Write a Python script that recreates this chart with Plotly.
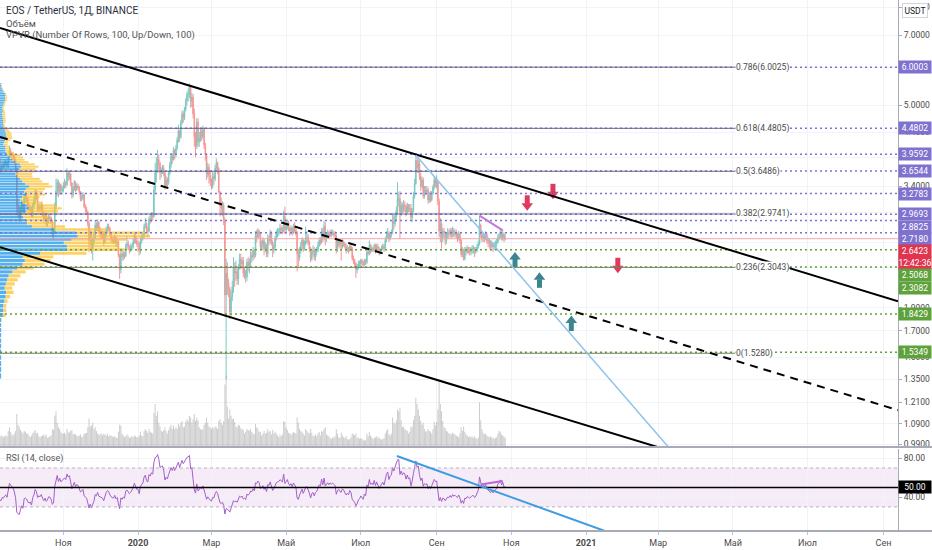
import numpy as np
import pandas as pd
import plotly.graph_objects as go

# EOS / TetherUS, 1D, Binance (approx.)
FIRST_DAY = "2019-08-26"
FIRST_OPEN = 3.70

CLOSE = [
    3.75, 3.68, 3.45, 3.36, 3.40, 3.47,  # aug 2019
    3.58, 3.72, 3.86, 3.80, 3.78, 3.66, 3.84, 3.90, 3.88, 3.72, 3.70, 3.76, 3.74, 3.78, 3.80,
    3.74, 3.88, 4.02, 3.98, 3.94, 3.92, 3.84, 3.70, 3.08, 3.02, 2.94, 3.04, 3.12, 3.00, 3.22,  # sep
    3.24, 3.20, 3.08, 3.04, 3.06, 2.94, 3.10, 3.16, 3.30, 3.24, 3.04, 3.08, 3.05, 3.10, 2.98, 2.90,
    2.95, 2.84, 2.87, 2.93, 2.92, 2.86, 2.70, 2.72, 3.08, 3.32, 3.46, 3.30, 3.42, 3.32, 3.36,  # oct
    3.40, 3.46, 3.42, 3.62, 3.55, 3.60, 3.45, 3.26, 3.36, 3.46, 3.34, 3.40, 3.38, 3.30, 3.20,
    3.22, 3.26, 3.08, 3.04, 3.00, 2.84, 2.62, 2.70, 2.52, 2.60, 2.66, 2.82, 2.78, 2.86, 2.74,  # nov
    2.72, 2.70, 2.68, 2.60, 2.70, 2.76, 2.80, 2.78, 2.70, 2.64, 2.62, 2.62, 2.66, 2.58, 2.60, 2.44,
    2.28, 2.46, 2.42, 2.46, 2.43, 2.56, 2.58, 2.54, 2.50, 2.52, 2.55, 2.60, 2.68, 2.62, 2.58,  # dec
    2.58, 2.50, 2.62, 2.66, 2.68, 2.80, 2.84, 2.76, 2.74, 2.90, 2.88, 2.96, 2.94, 3.34, 3.62, 3.66,
    3.86, 3.78, 3.62, 3.66, 3.70, 3.62, 3.40, 3.50, 3.46, 3.62, 3.76, 3.92, 3.86, 4.04, 3.96,  # jan 2020
    4.08, 4.24, 4.42, 4.30, 4.60, 4.80, 4.72, 4.90, 5.10, 5.26, 5.30, 5.46, 5.10, 5.20, 4.80,
    4.30, 4.12, 4.62, 4.20, 4.26, 4.40, 4.30, 4.48, 4.14, 3.96, 3.60, 3.72, 3.58, 3.48,  # feb
    3.40, 3.56, 3.52, 3.70, 3.80, 3.70, 3.30, 3.10, 3.06, 3.10, 2.88, 2.02, 2.24, 2.14, 2.08, 1.86,
    2.00, 2.10, 2.30, 2.24, 2.26, 2.18, 2.30, 2.40, 2.34, 2.38, 2.24, 2.26, 2.20, 2.36, 2.32,  # mar
    2.36, 2.44, 2.42, 2.50, 2.44, 2.68, 2.66, 2.74, 2.70, 2.54, 2.56, 2.62, 2.52, 2.56, 2.46,
    2.64, 2.62, 2.72, 2.60, 2.50, 2.54, 2.64, 2.70, 2.72, 2.73, 2.78, 2.76, 2.74, 2.94, 2.76,  # apr
    2.80, 2.86, 2.78, 2.74, 2.78, 2.72, 2.80, 2.76, 2.72, 2.46, 2.42, 2.50, 2.56, 2.62, 2.52, 2.58,
    2.64, 2.66, 2.60, 2.52, 2.40, 2.48, 2.50, 2.42, 2.48, 2.50, 2.56, 2.62, 2.60, 2.74, 2.64,  # may
    2.80, 2.64, 2.70, 2.72, 2.68, 2.72, 2.70, 2.72, 2.70, 2.68, 2.52, 2.58, 2.60, 2.56, 2.55,
    2.60, 2.58, 2.55, 2.50, 2.52, 2.50, 2.55, 2.52, 2.41, 2.38, 2.35, 2.28, 2.30, 2.34, 2.35,  # jun
    2.38, 2.35, 2.33, 2.38, 2.36, 2.48, 2.46, 2.56, 2.50, 2.52, 2.50, 2.56, 2.50, 2.55, 2.52, 2.47,
    2.50, 2.52, 2.55, 2.52, 2.62, 2.68, 2.72, 2.64, 2.70, 2.72, 2.88, 2.84, 2.94, 3.02, 3.18,  # jul
    3.20, 3.00, 3.10, 3.04, 3.10, 3.08, 3.00, 3.10, 3.04, 3.06, 2.92, 3.02, 3.24, 3.44, 3.84, 3.70,
    3.78, 3.55, 3.40, 3.50, 3.24, 3.34, 3.30, 3.34, 3.18, 3.26, 3.18, 3.28, 3.38, 3.50, 3.44,  # aug
    3.46, 3.16, 2.74, 2.84, 2.64, 2.74, 2.72, 2.62, 2.68, 2.72, 2.70, 2.75, 2.68, 2.75, 2.70,
    2.72, 2.68, 2.65, 2.70, 2.62, 2.45, 2.50, 2.40, 2.50, 2.48, 2.52, 2.50, 2.48, 2.50, 2.52,  # sep
    2.52, 2.48, 2.50, 2.54, 2.58, 2.82, 2.70, 2.64, 2.68, 2.64, 2.70, 2.62, 2.60, 2.58,
    2.55, 2.58, 2.54, 2.56, 2.58, 2.60, 2.66, 2.68, 2.72, 2.66, 2.70, 2.64, 2.6423,  # oct
]

HIGH = [
    3.85, 3.78, 3.70, 3.50, 3.46, 3.52,
    3.62, 3.76, 3.92, 3.90, 3.86, 3.80, 3.88, 3.98, 3.94, 3.90, 3.76, 3.80, 3.80, 3.84, 3.86,
    3.82, 3.92, 4.12, 4.08, 4.00, 3.98, 3.96, 3.88, 3.72, 3.16, 3.10, 3.08, 3.18, 3.14, 3.26,
    3.30, 3.28, 3.22, 3.12, 3.10, 3.08, 3.14, 3.22, 3.36, 3.34, 3.28, 3.12, 3.12, 3.14, 3.12, 3.00,
    3.00, 2.98, 2.92, 2.96, 2.98, 2.94, 2.90, 2.78, 3.14, 3.52, 3.52, 3.50, 3.46, 3.44, 3.40,
    3.46, 3.52, 3.48, 3.70, 3.66, 3.66, 3.62, 3.46, 3.40, 3.50, 3.48, 3.44, 3.44, 3.40, 3.32,
    3.26, 3.30, 3.28, 3.12, 3.08, 3.02, 2.88, 2.76, 2.74, 2.64, 2.74, 2.88, 2.86, 2.90, 2.88,
    2.80, 2.76, 2.74, 2.74, 2.74, 2.80, 2.84, 2.84, 2.80, 2.72, 2.68, 2.66, 2.70, 2.68, 2.64, 2.62,
    2.46, 2.50, 2.50, 2.50, 2.48, 2.58, 2.68, 2.62, 2.56, 2.58, 2.58, 2.64, 2.72, 2.70, 2.66,
    2.62, 2.60, 2.66, 2.70, 2.72, 2.84, 2.92, 2.86, 2.80, 2.94, 2.96, 3.00, 3.00, 3.40, 3.80, 3.90,
    4.04, 3.96, 3.82, 3.72, 3.76, 3.76, 3.64, 3.56, 3.54, 3.66, 3.82, 3.98, 3.98, 4.10, 4.06,
    4.14, 4.30, 4.56, 4.44, 4.66, 4.88, 4.86, 4.96, 5.18, 5.34, 5.42, 5.56, 5.50, 5.30, 5.28,
    4.92, 4.40, 4.70, 4.70, 4.40, 4.48, 4.46, 4.54, 4.50, 4.18, 3.98, 3.80, 3.78, 3.66,
    3.52, 3.64, 3.62, 3.76, 3.88, 3.82, 3.72, 3.32, 3.22, 3.16, 3.14, 2.92, 2.40, 2.36, 2.18, 2.10,
    2.06, 2.16, 2.42, 2.36, 2.38, 2.30, 2.34, 2.46, 2.46, 2.42, 2.42, 2.30, 2.28, 2.40, 2.42,
    2.40, 2.50, 2.48, 2.54, 2.52, 2.74, 2.76, 2.78, 2.76, 2.72, 2.62, 2.66, 2.64, 2.60, 2.58,
    2.70, 2.68, 2.76, 2.74, 2.62, 2.58, 2.68, 2.76, 2.78, 2.78, 2.84, 2.82, 2.80, 3.02, 3.08,
    2.86, 2.90, 2.88, 2.80, 2.82, 2.80, 2.84, 2.86, 2.78, 2.74, 2.52, 2.54, 2.60, 2.66, 2.64, 2.62,
    2.80, 2.74, 2.70, 2.62, 2.54, 2.52, 2.56, 2.54, 2.52, 2.54, 2.60, 2.66, 2.66, 2.78, 2.78,
    2.88, 2.86, 2.72, 2.76, 2.74, 2.76, 2.76, 2.76, 2.74, 2.74, 2.70, 2.62, 2.64, 2.62, 2.60,
    2.64, 2.62, 2.60, 2.58, 2.56, 2.54, 2.58, 2.58, 2.54, 2.44, 2.40, 2.36, 2.34, 2.38, 2.38,
    2.40, 2.40, 2.38, 2.40, 2.40, 2.52, 2.52, 2.62, 2.58, 2.56, 2.54, 2.58, 2.58, 2.58, 2.58, 2.54,
    2.52, 2.56, 2.58, 2.58, 2.66, 2.74, 2.78, 2.74, 2.72, 2.76, 2.98, 2.96, 2.98, 3.08, 3.46,
    3.30, 3.32, 3.16, 3.14, 3.18, 3.16, 3.12, 3.14, 3.12, 3.12, 3.12, 3.06, 3.30, 3.52, 3.94, 3.90,
    3.86, 3.84, 3.62, 3.56, 3.54, 3.40, 3.40, 3.40, 3.38, 3.30, 3.32, 3.32, 3.42, 3.56, 3.54,
    3.58, 3.48, 3.20, 2.92, 2.86, 2.78, 2.78, 2.74, 2.72, 2.78, 2.76, 2.78, 2.78, 2.80, 2.78,
    2.76, 2.76, 2.72, 2.74, 2.72, 2.64, 2.54, 2.52, 2.54, 2.54, 2.56, 2.54, 2.54, 2.54, 2.56,
    2.56, 2.54, 2.54, 2.58, 2.62, 2.95, 2.84, 2.72, 2.72, 2.70, 2.74, 2.72, 2.66, 2.64,
    2.62, 2.62, 2.60, 2.60, 2.62, 2.64, 2.70, 2.72, 2.76, 2.74, 2.75, 2.72, 2.70,
]

LOW = [
    3.62, 3.60, 3.40, 3.28, 3.30, 3.36,
    3.44, 3.55, 3.70, 3.74, 3.70, 3.60, 3.62, 3.80, 3.80, 3.68, 3.62, 3.66, 3.70, 3.70, 3.74,
    3.70, 3.70, 3.86, 3.90, 3.86, 3.86, 3.80, 3.66, 2.96, 2.92, 2.86, 2.90, 3.00, 2.96, 2.98,
    3.14, 3.14, 3.04, 2.98, 3.00, 2.92, 2.92, 3.06, 3.12, 3.18, 3.00, 3.00, 3.00, 3.02, 2.94, 2.86,
    2.88, 2.80, 2.80, 2.84, 2.88, 2.84, 2.66, 2.62, 2.70, 3.04, 3.24, 3.22, 3.26, 3.26, 3.26,
    3.30, 3.36, 3.36, 3.40, 3.48, 3.50, 3.40, 3.20, 3.22, 3.32, 3.30, 3.32, 3.34, 3.26, 3.16,
    3.16, 3.18, 3.06, 3.00, 2.96, 2.80, 2.48, 2.56, 2.46, 2.38, 2.56, 2.64, 2.74, 2.74, 2.72,
    2.66, 2.64, 2.64, 2.56, 2.58, 2.66, 2.72, 2.74, 2.68, 2.60, 2.58, 2.58, 2.58, 2.54, 2.54, 2.42,
    2.18, 2.24, 2.38, 2.38, 2.40, 2.42, 2.52, 2.50, 2.46, 2.48, 2.50, 2.52, 2.58, 2.58, 2.54,
    2.48, 2.44, 2.46, 2.58, 2.62, 2.64, 2.78, 2.72, 2.66, 2.72, 2.84, 2.86, 2.88, 2.92, 3.28, 3.46,
    3.62, 3.66, 3.50, 3.54, 3.60, 3.56, 3.34, 3.36, 3.38, 3.42, 3.58, 3.70, 3.78, 3.84, 3.86,
    3.90, 4.04, 4.18, 4.20, 4.26, 4.56, 4.60, 4.66, 4.86, 5.00, 5.10, 5.18, 4.94, 4.96, 4.70,
    4.10, 3.90, 4.06, 4.10, 4.10, 4.20, 4.22, 4.26, 4.06, 3.84, 3.50, 3.54, 3.44, 3.40,
    3.34, 3.36, 3.42, 3.48, 3.66, 3.60, 3.28, 2.94, 2.98, 2.94, 2.82, 1.82, 1.35, 2.02, 2.00, 1.80,
    1.82, 1.96, 2.04, 2.10, 2.16, 2.12, 2.12, 2.28, 2.28, 2.30, 2.20, 2.18, 2.14, 2.16, 2.26,
    2.24, 2.32, 2.36, 2.38, 2.40, 2.42, 2.60, 2.64, 2.66, 2.50, 2.50, 2.50, 2.44, 2.48, 2.42,
    2.42, 2.56, 2.58, 2.56, 2.42, 2.46, 2.50, 2.62, 2.66, 2.68, 2.70, 2.72, 2.70, 2.72, 2.70,
    2.72, 2.76, 2.74, 2.68, 2.70, 2.68, 2.70, 2.72, 2.68, 2.26, 2.30, 2.38, 2.46, 2.50, 2.48, 2.50,
    2.56, 2.58, 2.56, 2.48, 2.36, 2.38, 2.44, 2.38, 2.38, 2.44, 2.48, 2.54, 2.56, 2.58, 2.60,
    2.62, 2.56, 2.60, 2.66, 2.64, 2.66, 2.66, 2.68, 2.66, 2.64, 2.46, 2.48, 2.54, 2.52, 2.38,
    2.52, 2.54, 2.52, 2.46, 2.48, 2.46, 2.48, 2.50, 2.38, 2.34, 2.30, 2.19, 2.24, 2.28, 2.30,
    2.32, 2.32, 2.30, 2.32, 2.33, 2.34, 2.44, 2.44, 2.46, 2.48, 2.48, 2.48, 2.46, 2.48, 2.48, 2.44,
    2.45, 2.48, 2.50, 2.48, 2.50, 2.60, 2.64, 2.60, 2.62, 2.66, 2.70, 2.76, 2.80, 2.88, 2.96,
    3.08, 2.64, 2.94, 2.98, 3.00, 3.00, 2.94, 2.98, 3.00, 3.00, 2.88, 2.86, 3.00, 3.20, 3.42, 3.62,
    3.62, 3.50, 3.32, 3.36, 3.20, 3.20, 3.26, 3.26, 3.12, 3.14, 3.14, 3.16, 3.26, 3.34, 3.38,
    3.36, 3.10, 2.66, 2.60, 2.52, 2.60, 2.66, 2.56, 2.58, 2.64, 2.64, 2.66, 2.64, 2.66, 2.66,
    2.66, 2.64, 2.60, 2.62, 2.58, 2.42, 2.42, 2.38, 2.38, 2.44, 2.46, 2.46, 2.44, 2.44, 2.46,
    2.46, 2.42, 2.46, 2.48, 2.52, 2.56, 2.66, 2.60, 2.60, 2.60, 2.62, 2.58, 2.54, 2.52,
    2.50, 2.52, 2.48, 2.50, 2.52, 2.54, 2.58, 2.62, 2.64, 2.62, 2.62, 2.60, 2.62,
]

# daily volume, mln EOS
VOLUME = [
    30, 28, 42, 38, 26, 22,
    24, 32, 36, 30, 28, 30, 34, 30, 26, 30, 24, 26, 22, 24, 26, 24, 36, 44, 34, 28, 26, 30, 36, 74,
    50, 44, 38, 34, 30, 36,
    34, 30, 30, 26, 22, 26, 30, 34, 38, 30, 32, 24, 22, 24, 26, 28, 24, 28, 20, 22, 24, 26, 40, 38,
    70, 80, 54, 44, 40, 34, 30,
    30, 32, 28, 40, 34, 32, 36, 38, 28, 30, 28, 26, 24, 26, 28, 22, 24, 30, 30, 32, 44, 64, 46, 48,
    54, 40, 44, 36, 30, 28,
    28, 30, 26, 30, 28, 26, 30, 24, 26, 26, 24, 22, 24, 22, 20, 34, 50, 48, 30, 26, 22, 24, 28, 24,
    20, 22, 24, 22, 26, 24, 22,
    22, 26, 34, 26, 24, 36, 40, 36, 32, 40, 34, 32, 30, 76, 96, 70, 80, 54, 46, 36, 34, 38, 44, 36,
    30, 38, 44, 50, 40, 48, 40,
    44, 40, 52, 46, 54, 58, 44, 46, 56, 62, 58, 70, 66, 54, 62, 74, 58, 66, 60, 44, 40, 38, 40, 50,
    54, 66, 54, 46, 44,
    40, 44, 42, 46, 44, 40, 58, 62, 54, 50, 58, 140, 160, 90, 64, 84, 70, 62, 64, 56, 46, 44, 50, 48,
    42, 40, 38, 30, 34, 40, 38,
    36, 40, 34, 30, 28, 52, 44, 40, 34, 34, 26, 30, 36, 30, 32, 40, 34, 36, 28, 38, 30, 34, 30, 26,
    22, 28, 24, 28, 58, 56,
    44, 38, 32, 30, 28, 30, 34, 32, 30, 66, 54, 40, 36, 34, 30, 26, 40, 36, 32, 30, 40, 32, 24, 26,
    28, 24, 30, 34, 26, 36, 34,
    40, 44, 28, 26, 24, 20, 18, 22, 20, 24, 40, 30, 22, 20, 32, 26, 22, 20, 24, 18, 16, 18, 22, 30,
    28, 26, 30, 20, 22, 18,
    20, 18, 16, 14, 16, 30, 24, 34, 26, 22, 18, 20, 22, 24, 20, 22, 18, 16, 18, 20, 30, 36, 40, 28,
    26, 30, 66, 54, 52, 60, 84,
    80, 88, 60, 44, 46, 40, 38, 36, 30, 34, 46, 44, 60, 70, 110, 96, 84, 70, 58, 50, 54, 40, 34, 36,
    40, 36, 34, 30, 40, 56, 48,
    56, 84, 150, 96, 80, 58, 44, 42, 36, 34, 30, 30, 28, 32, 30, 28, 26, 24, 22, 30, 44, 36, 46, 34,
    28, 26, 22, 24, 22, 24,
    20, 24, 20, 18, 22, 100, 60, 40, 32, 28, 30, 26, 24, 22, 24, 20, 22, 18, 20, 22, 30, 36, 34, 28,
    26, 24, 20,
]

# drawings on the chart (dates, prices)
CHANNEL_TOP_D, CHANNEL_TOP_P = ["2019-09-10 06:15", "2021-09-12 21:30"], [7.24, 1.96]
CHANNEL_MID_D, CHANNEL_MID_P = ["2019-09-10 06:15", "2021-09-12 21:30"], [4.30, 1.164]
CHANNEL_LOW_D, CHANNEL_LOW_P = ["2019-09-10 06:15", "2021-09-12 21:30"], [2.538, 0.688]
TREND_BLUE_D, TREND_BLUE_P = ["2020-08-15", "2021-04-04"], [3.94, 0.82]
TREND_PURPLE_D, TREND_PURPLE_P = ["2020-10-06", "2020-10-25"], [2.95, 2.75]

FIB_LEVELS = ["0.786", "0.618", "0.5", "0.382", "0.236", "0"]
FIB_PRICES = [6.0025, 4.4805, 3.6486, 2.9741, 2.3043, 1.5280]
FIB_END = "2021-05-03"

RAY_PRICES = [6.0003, 4.4802, 3.9592, 3.6544, 3.2783, 2.9693, 2.8825, 2.7180,
              2.5068, 2.3082, 1.8429, 1.5349]
RAY_GREEN = [False] * 8 + [True] * 4
LAST_PRICE = 2.6423
COUNTDOWN = "12:42:36"

UP_ARROW_D = ["2020-11-04", "2020-11-24", "2020-12-20"]
UP_ARROW_P = [2.48, 2.25, 1.83]
DOWN_ARROW_D = ["2020-11-14", "2020-12-05", "2021-01-27"]
DOWN_ARROW_P = [3.02, 3.19, 2.24]

RSI_BLUE_D, RSI_BLUE_P = ["2020-07-30 12:00", "2021-01-17"], [82.3, 5.0]
RSI_PURPLE_D, RSI_PURPLE_P = ["2020-10-07", "2020-10-25"], [53.0, 56.5]
RSI_LINE = 50

X_TICKS = ["2019-11-01", "2020-01-01", "2020-03-01", "2020-05-01", "2020-07-01", "2020-09-01",
           "2020-11-01", "2021-01-01", "2021-03-01", "2021-05-01", "2021-07-01", "2021-09-01"]
X_TICK_TEXT = ["Ноя", "<b>2020</b>", "Мар", "Май", "Июл", "Сен",
               "Ноя", "<b>2021</b>", "Мар", "Май", "Июл", "Сен"]
PRICE_TICKS = [8, 7, 6, 5, 4.4, 3.9, 3.4, 3.0, 2.6, 2.3, 1.9, 1.7, 1.5, 1.35, 1.21, 1.09, 0.99]

# view / style
X_START, X_END = "2019-09-10 06:15", "2021-09-12 21:30"
LOG_LO, LOG_HI = -0.010588, 0.917790
MAIN_PX, FULL_PX = 447, 531
MAIN_BOTTOM = 1 - MAIN_PX / FULL_PX
RSI_TOP = 1 - 449 / FULL_PX
FONT = "Roboto, 'Liberation Sans', sans-serif"
UPC, DNC = "#26a69a", "#ef5350"
PURPLE, GREEN, RED = "#7f72cf", "#5ea23c", "#e0344f"
GRID = "#f0f3fa"
VP_ROWS, VP_WIDTH = 100, 0.167

LPP = (LOG_HI - LOG_LO) / MAIN_PX  # log10 units per pixel


def lg(p):
    return float(np.log10(p))


def py(px):
    return 1 - px / FULL_PX


dates = pd.date_range(FIRST_DAY, periods=len(CLOSE), freq="D")
close = np.array(CLOSE)
opens = np.r_[FIRST_OPEN, close[:-1]]
high = np.maximum.reduce([np.array(HIGH), opens, close])
low = np.minimum.reduce([np.array(LOW), opens, close])
vol = np.array(VOLUME, dtype=float)

# RSI 14 (Wilder)
d = pd.Series(close).diff()
g = d.clip(lower=0).ewm(alpha=1 / 14, adjust=False).mean()
l = (-d.clip(upper=0)).ewm(alpha=1 / 14, adjust=False).mean()
rsi = (100 - 100 / (1 + g / l)).to_numpy()

# visible range volume profile
vis = dates >= pd.Timestamp(X_START)
edges = np.linspace(low[vis].min(), high[vis].max(), VP_ROWS + 1)
up_v = np.zeros(VP_ROWS)
dn_v = np.zeros(VP_ROWS)
for o, h, lo_, c, v in zip(opens[vis], high[vis], low[vis], close[vis], vol[vis]):
    ov = np.clip(np.minimum(edges[1:], h) - np.maximum(edges[:-1], lo_), 0, None) / max(h - lo_, 1e-9)
    if c >= o:
        up_v += v * ov
    else:
        dn_v += v * ov
span_ms = (pd.Timestamp(X_END) - pd.Timestamp(X_START)).total_seconds() * 1000
k = VP_WIDTH * span_ms / (up_v + dn_v).max()
row_y = (np.log10(edges[1:]) + np.log10(edges[:-1])) / 2
row_w = (np.log10(edges[1:]) - np.log10(edges[:-1])) * 0.8
x0 = pd.Timestamp(X_START)
up_ms = up_v * k
dn_base = [str(x0 + pd.Timedelta(milliseconds=float(m))) for m in up_ms]

fig = go.Figure()
fig.add_trace(go.Candlestick(
    x=dates, open=opens, high=high, low=low, close=close, xaxis="x", yaxis="y",
    increasing=dict(line=dict(color=UPC, width=1), fillcolor=UPC),
    decreasing=dict(line=dict(color=DNC, width=1), fillcolor=DNC),
    whiskerwidth=0, opacity=0.6, hoverinfo="skip"))
fig.add_trace(go.Bar(x=dates, y=vol, xaxis="x", yaxis="y3", hoverinfo="skip",
                     marker=dict(color="rgba(140,140,140,0.45)", line=dict(width=0))))
fig.add_trace(go.Bar(orientation="h", y=row_y, x=up_ms, base=[X_START] * VP_ROWS, width=row_w,
                     xaxis="x", yaxis="y4", hoverinfo="skip",
                     marker=dict(color="rgba(21,146,230,0.72)", line=dict(width=0))))
fig.add_trace(go.Bar(orientation="h", y=row_y, x=dn_v * k, base=dn_base, width=row_w,
                     xaxis="x", yaxis="y4", hoverinfo="skip",
                     marker=dict(color="rgba(251,192,45,0.72)", line=dict(width=0))))
fig.add_trace(go.Scatter(x=dates, y=rsi, xaxis="x", yaxis="y2", mode="lines", hoverinfo="skip",
                         line=dict(color="#a35fc9", width=1)))

# arrows: stem (line) + head (triangle)
for ds, ps, up, col in [(UP_ARROW_D, UP_ARROW_P, True, "#3b8591"),
                        (DOWN_ARROW_D, DOWN_ARROW_P, False, "#de3a5c")]:
    sx, sy, hy = [], [], []
    s = -1 if up else 1
    for dd, pp in zip(ds, ps):
        t = lg(pp)
        hy.append(t + s * 5 * LPP)
        sx += [dd, dd, None]
        sy += [t + s * 7 * LPP, t + s * 15.5 * LPP, None]
    fig.add_trace(go.Scatter(x=sx, y=sy, xaxis="x", yaxis="y4", mode="lines", hoverinfo="skip",
                             line=dict(color=col, width=5)))
    fig.add_trace(go.Scatter(x=ds, y=hy, xaxis="x", yaxis="y4", mode="markers", hoverinfo="skip",
                             marker=dict(symbol="triangle-up" if up else "triangle-down",
                                         size=10, color=col, line=dict(width=0))))

shapes = []
# horizontal rays
for p, gr in zip(RAY_PRICES, RAY_GREEN):
    shapes.append(dict(type="line", xref="paper", yref="y4", x0=0, x1=1, y0=lg(p), y1=lg(p),
                       line=dict(color=GREEN if gr else PURPLE, width=1.5, dash="2px,3px")))
shapes.append(dict(type="line", xref="paper", yref="y4", x0=0, x1=1, y0=lg(LAST_PRICE),
                   y1=lg(LAST_PRICE), line=dict(color="#f5a3ab", width=1)))
# fibonacci
for i, p in enumerate(FIB_PRICES):
    shapes.append(dict(type="line", xref="x", yref="y4", x0=X_START, x1=FIB_END, y0=lg(p), y1=lg(p),
                       line=dict(color="#66638f" if i < 4 else "#72805f", width=1)))
# trend lines
for ds, ps, col, w, dash in [(CHANNEL_TOP_D, CHANNEL_TOP_P, "#000000", 2, None),
                             (CHANNEL_MID_D, CHANNEL_MID_P, "#000000", 2, "8px,6px"),
                             (CHANNEL_LOW_D, CHANNEL_LOW_P, "#000000", 2, None),
                             (TREND_BLUE_D, TREND_BLUE_P, "#8ec3ea", 1.5, None),
                             (TREND_PURPLE_D, TREND_PURPLE_P, "#c07ad8", 2, None)]:
    shapes.append(dict(type="line", xref="x", yref="y4", x0=ds[0], x1=ds[1],
                       y0=lg(ps[0]), y1=lg(ps[1]), line=dict(color=col, width=w, dash=dash)))
# RSI panel
shapes.append(dict(type="rect", xref="paper", yref="y2", x0=0, x1=1, y0=30, y1=70, layer="below",
                   fillcolor="rgba(156,39,176,0.09)", line=dict(width=0)))
for lv in (70, 30):
    shapes.append(dict(type="line", xref="paper", yref="y2", x0=0, x1=1, y0=lv, y1=lv,
                       line=dict(color="#b5b2c2", width=1, dash="3px,3px")))
shapes.append(dict(type="line", xref="paper", yref="y2", x0=0, x1=1, y0=RSI_LINE, y1=RSI_LINE,
                   line=dict(color="#000000", width=1.5)))
shapes.append(dict(type="line", xref="x", yref="y2", x0=RSI_BLUE_D[0], x1=RSI_BLUE_D[1],
                   y0=RSI_BLUE_P[0], y1=RSI_BLUE_P[1], line=dict(color="#3d9be0", width=2)))
shapes.append(dict(type="line", xref="x", yref="y2", x0=RSI_PURPLE_D[0], x1=RSI_PURPLE_D[1],
                   y0=RSI_PURPLE_P[0], y1=RSI_PURPLE_P[1], line=dict(color="#b86ad0", width=2)))
# pane separators
for yy in (MAIN_BOTTOM, 0):
    shapes.append(dict(type="line", xref="paper", yref="paper", x0=0, x1=1.04, y0=yy, y1=yy,
                       line=dict(color="#a8abb3", width=2)))

ann = []
for i, (p, lv) in enumerate(zip(FIB_PRICES, FIB_LEVELS)):
    ann.append(dict(x=FIB_END, xref="x", y=lg(p), yref="y4", xanchor="left", yanchor="middle",
                    text=f"{lv}({p:.4f})", showarrow=False, bgcolor="white", borderpad=0,
                    font=dict(size=8.5, color="#4a4a4a")))

# right price labels, stacked like the platform does
labels = [(p, f"{p:.4f}", GREEN if gr else PURPLE) for p, gr in zip(RAY_PRICES, RAY_GREEN)]
labels += [(LAST_PRICE, f"{LAST_PRICE:.4f}", RED), (LAST_PRICE - 1e-6, COUNTDOWN, RED)]
labels.sort(key=lambda t: -t[0])
prev = -100
for p, txt, col in labels:
    pos = max((LOG_HI - lg(p)) / LPP, prev + 12.2)
    prev = pos
    ann.append(dict(x=1, xref="paper", y=LOG_HI - pos * LPP, yref="y4", xanchor="left",
                    yanchor="middle", text=txt, showarrow=False, bgcolor=col, width=32, height=12,
                    borderpad=0, font=dict(size=8.5, color="white")))
ann.append(dict(x=1, xref="paper", y=RSI_LINE, yref="y2", xanchor="left", yanchor="middle",
                text="50.00", showarrow=False, bgcolor="#000000", width=32, height=12, borderpad=0,
                font=dict(size=8.5, color="white")))
ann.append(dict(x=1, xref="paper", xshift=4, y=py(10.5), yref="paper", xanchor="left",
                yanchor="middle", text="USDT", showarrow=False, bgcolor="white",
                bordercolor="#d1d4dc", borderwidth=1, borderpad=1.5,
                font=dict(size=8.5, color="#131722")))
for txt, ypx, sz, col in [("EOS / TetherUS, 1Д, BINANCE", 11, 10, "#2a2e39"),
                          ("Объём", 23, 9.5, "#555555"),
                          ("VPVR (Number Of Rows, 100, Up/Down, 100)", 35, 9.5, "#555555"),
                          ("RSI (14, close)", 458, 9, "#555555")]:
    ann.append(dict(x=0, xref="paper", xshift=4, y=py(ypx), yref="paper", xanchor="left",
                    yanchor="middle", text=txt, showarrow=False, font=dict(size=sz, color=col)))

axis_font = dict(size=8.5, color="#4a4a4a")
fig.update_layout(
    width=932, height=550, margin=dict(l=0, r=34, t=0, b=19),
    paper_bgcolor="white", plot_bgcolor="white", showlegend=False, barmode="overlay",
    font=dict(family=FONT, size=10, color="#131722"),
    xaxis=dict(type="date", range=[X_START, X_END], anchor="y2", tickvals=X_TICKS,
               ticktext=X_TICK_TEXT, showgrid=True, gridcolor=GRID, zeroline=False,
               ticks="outside", ticklen=3, tickcolor="#c0c3ca",
               tickfont=dict(size=9, color="#4a4a4a"),
               rangeslider=dict(visible=False), showline=False, fixedrange=True),
    yaxis=dict(type="log", domain=[MAIN_BOTTOM, 1], range=[LOG_LO, LOG_HI], side="right",
               anchor="x", tickvals=PRICE_TICKS, ticktext=[f"{v:.4f}" for v in PRICE_TICKS],
               showgrid=True, gridcolor=GRID, zeroline=False, showline=True, linecolor="#a8abb3",
               ticks="outside", ticklen=3, tickcolor="#a8abb3", tickfont=axis_font,
               fixedrange=True),
    yaxis2=dict(domain=[0, RSI_TOP], range=[5.2, 89.5], side="right", anchor="x",
                tickvals=[80, 40], ticktext=["80.00", "40.00"], showgrid=True, gridcolor=GRID,
                zeroline=False, showline=True, linecolor="#a8abb3", ticks="outside", ticklen=3,
                tickcolor="#a8abb3", tickfont=axis_font, fixedrange=True),
    yaxis3=dict(overlaying="y", anchor="x", range=[0, 1000], visible=False, fixedrange=True),
    yaxis4=dict(overlaying="y", anchor="x", range=[LOG_LO, LOG_HI], visible=False,
                fixedrange=True),
    shapes=shapes, annotations=ann,
)

fig.write_html("out.html", config={"displayModeBar": False},
               post_script="document.body.style.margin='0';")
